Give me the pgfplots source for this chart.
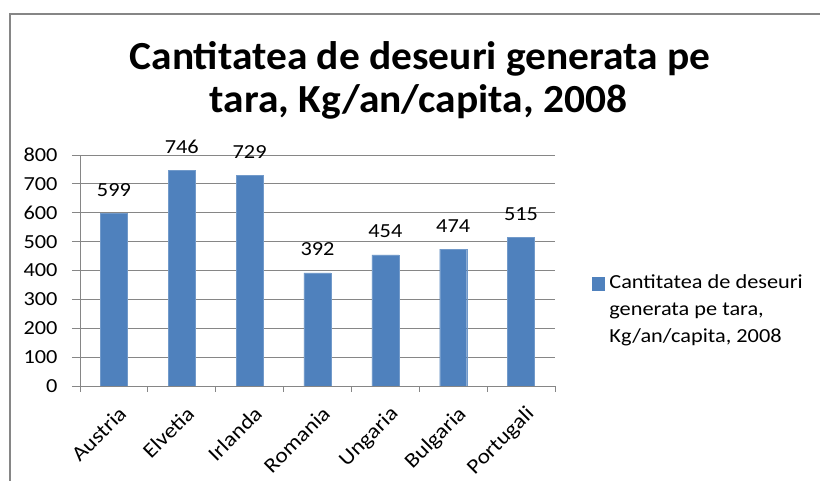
\documentclass[border=0pt]{standalone}
\usepackage{fontspec}
\setmainfont{Carlito}[FakeStretch=1.12]
\newfontfamily\titlefont{Carlito}[FakeStretch=1.04]
\usepackage{pgfplots}
\pgfplotsset{compat=1.18}
\definecolor{barblue}{HTML}{4F81BD}
\definecolor{gridgray}{HTML}{868686}
\definecolor{framegray}{HTML}{868686}
\begin{document}
\begin{tikzpicture}
\useasboundingbox (0,0) rectangle (820bp,481bp);
\fill[white] (0,0) rectangle (820bp,481bp);
\draw[framegray, line width=2bp] (10bp,0) -- (10bp,467bp) -- (820bp,467bp);
\node[font=\titlefont\fontsize{40}{44}\selectfont\bfseries, anchor=base, inner sep=0pt] at (420bp,411bp) {Cantitatea de deseuri generata pe};
\node[font=\titlefont\fontsize{40}{44}\selectfont\bfseries, anchor=base, inner sep=0pt] at (418.5bp,368bp) {tara, Kg/an/capita, 2008};
\begin{axis}[
  at={(80bp,95bp)}, anchor=south west,
  scale only axis, width=475bp, height=231bp,
  ymin=0, ymax=800, ytick={0,100,...,800},
  xmin=-0.5, xmax=6.5,
  xtick={0,...,6},
  xticklabels={Austria,Elvetia,Irlanda,Romania,Ungaria,Bulgaria,Portugali},
  minor xtick={-0.5,0.5,...,6.5},
  axis lines*=left,
  axis line style={gridgray, line width=0.9bp, -},
  ymajorgrids, grid style={gridgray, line width=0.9bp},
  tick align=outside,
  major tick length=8bp,
  minor tick length=6bp,
  every tick/.style={gridgray, line width=0.9bp},
  x tick style={draw=none},
  xtick pos=bottom,
  minor x tick style={gridgray, draw=gridgray},
  ytick pos=left,
  /pgf/number format/assume math mode=true,
  ticklabel style={font=\fontsize{20}{24}\selectfont, text=black},
  yticklabel style={xshift=-11bp},
  xticklabel style={rotate=45, anchor=north east, inner sep=1bp, xshift=-4bp, yshift=-9bp, font=\fontsize{21}{24}\selectfont},
  ybar, bar width=27bp,
  nodes near coords={\pgfmathprintnumber{\pgfplotspointmeta}},
  nodes near coords style={font=\fontsize{20}{24}\selectfont, text=black, anchor=base, yshift=17bp, inner sep=0pt},
  legend style={at={(axis description cs:1.0779,0.5017)}, anchor=north west, draw=none, fill=none,
    inner sep=0pt, outer sep=0pt, column sep=5bp,
    font=\fontsize{20}{27}\selectfont, text=black,
    nodes={inner sep=0pt, anchor=base west}},
  legend image code/.code={\fill[barblue] (0bp,-1bp) rectangle (12bp,12bp);},
]
\addplot[fill=barblue, draw=barblue!80!white] coordinates {(0,599) (1,746) (2,729) (3,392) (4,454) (5,474) (6,515)};
\addlegendentry{\renewcommand\arraystretch{1}\begin{tabular}[t]{@{}l@{}}Cantitatea de deseuri\\generata pe tara,\\Kg/an/capita, 2008\end{tabular}}
\end{axis}
\end{tikzpicture}
\end{document}
